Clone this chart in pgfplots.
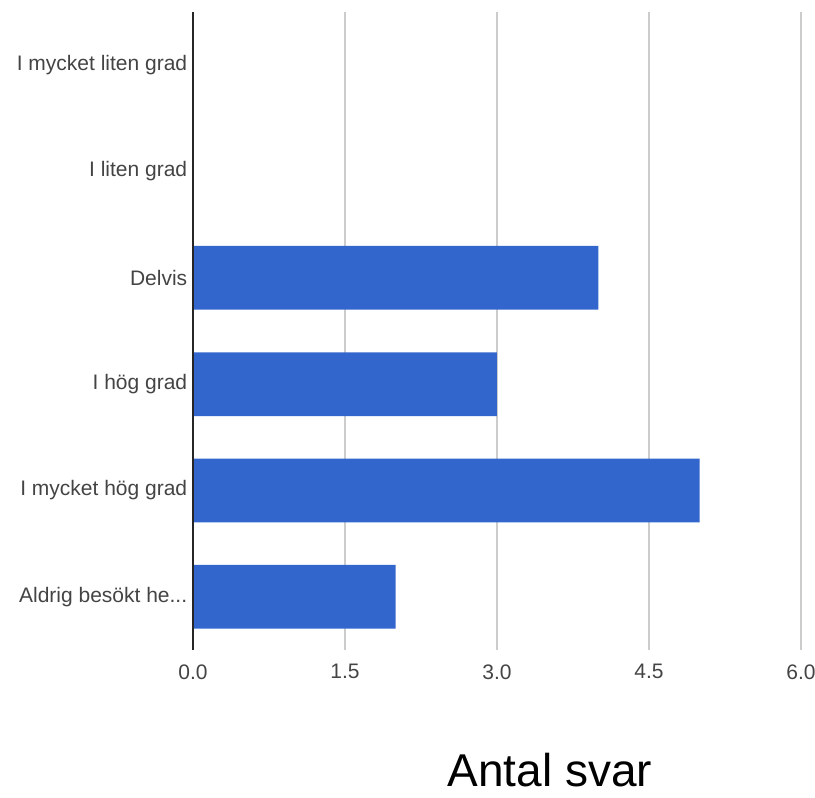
\documentclass[border=0pt]{standalone}
\usepackage{pgfplots}
\pgfplotsset{compat=1.18}
\usepackage{fontspec}
\setmainfont{Liberation Sans}
\definecolor{barblue}{HTML}{3366CC}
\definecolor{gridgrey}{HTML}{CCCCCC}
\definecolor{labelgrey}{HTML}{444444}
\begin{document}
\begin{tikzpicture}[x=1pt,y=1pt]
  \path[use as bounding box] (0,0) rectangle (815,798);
  \begin{axis}[
      at={(193pt,148pt)},
      anchor=south west,
      scale only axis,
      width=608pt,
      height=638pt,
      xbar,
      bar width=0.6,
      xmin=0, xmax=6,
      ymin=-0.5, ymax=5.5,
      y dir=reverse,
      axis line style={draw=none},
      xtick={0,1.5,3,4.5,6},
      xticklabels={0.0,1.5,3.0,4.5,6.0},
      ytick={0,1,2,3,4,5},
      yticklabels={I mycket liten grad,I liten grad,Delvis,I hög grad,I mycket hög grad,{Aldrig besökt he.{}.{}.}},
      tick style={draw=none},
      xmajorgrids,
      major grid style={draw=gridgrey, line width=1.2pt},
      ticklabel style={font=\fontsize{21}{24}\selectfont, text=labelgrey},
      xticklabel style={yshift=-11pt},
      yticklabel style={xshift=2pt},
      /pgf/number format/assume math mode=true,
      clip=false,
    ]
    \addplot[draw=none, fill=barblue] coordinates {
        (0,0)
        (0,1)
        (4,2)
        (3,3)
        (5,4)
        (2,5)
      };
    \draw[draw=black!85, line width=1.3pt] (axis cs:0,-0.5) -- (axis cs:0,5.5);
  \end{axis}
  \node[anchor=base, font=\fontsize{46}{54}\selectfont] at (550,11) {Antal svar};
\end{tikzpicture}
\end{document}
